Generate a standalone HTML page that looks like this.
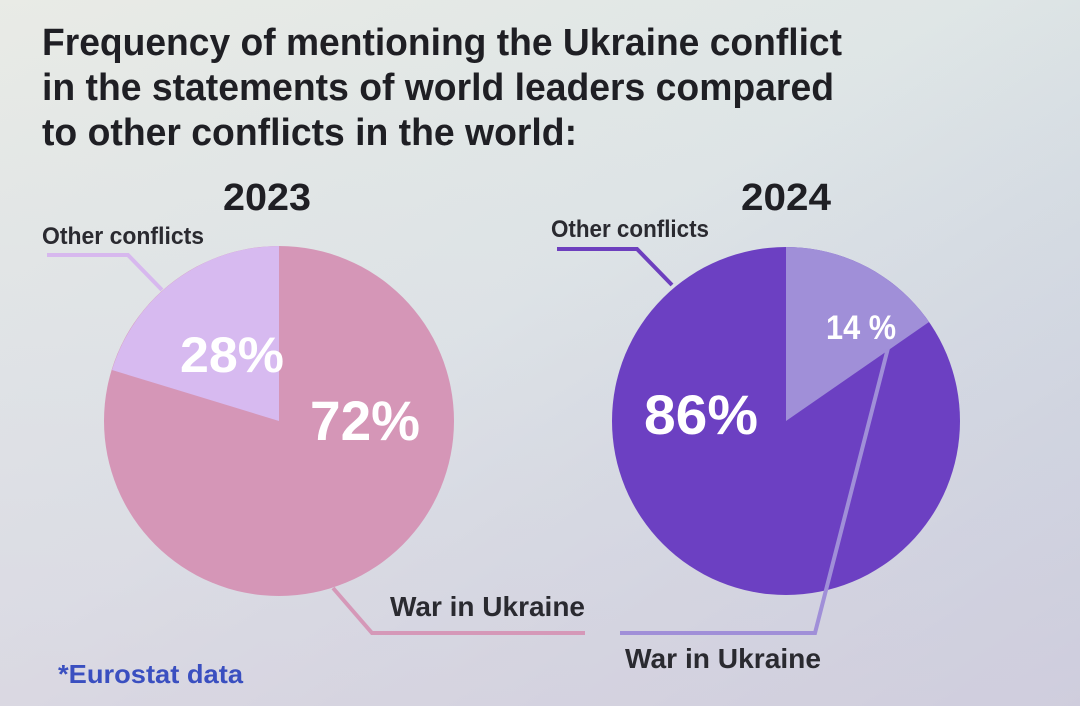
<!DOCTYPE html>
<html><head><meta charset="utf-8"><style>
html,body{margin:0;padding:0;}
body{width:1080px;height:706px;overflow:hidden;}
text{font-family:"Liberation Sans Narrow","Liberation Sans",sans-serif;font-weight:bold;}
</style></head><body>
<svg width="1080" height="706" viewBox="0 0 1080 706" xmlns="http://www.w3.org/2000/svg">
<defs>
<linearGradient id="bg" x1="0" y1="0" x2="1" y2="1">
<stop offset="0" stop-color="#e9ebe6"/>
<stop offset="0.45" stop-color="#dfe6e6"/>
<stop offset="1" stop-color="#c2c9d9"/>
</linearGradient>
<linearGradient id="bg2" x1="0" y1="0" x2="0" y2="1">
<stop offset="0" stop-color="#d6dcea" stop-opacity="0"/>
<stop offset="1" stop-color="#d8d0e0" stop-opacity="0.6"/>
</linearGradient>
</defs>
<rect width="1080" height="706" fill="url(#bg)"/>
<rect width="1080" height="706" fill="url(#bg2)"/>
<g fill="#1f1f24" font-size="38">
<text x="42" y="55" textLength="800" lengthAdjust="spacingAndGlyphs">Frequency of mentioning the Ukraine conflict</text>
<text x="42" y="100" textLength="792" lengthAdjust="spacingAndGlyphs">in the statements of world leaders compared</text>
<text x="42" y="145" textLength="535" lengthAdjust="spacingAndGlyphs">to other conflicts in the world:</text>
<text x="223" y="210" font-size="38" textLength="88" lengthAdjust="spacingAndGlyphs">2023</text>
<text x="741" y="210" font-size="38" textLength="90" lengthAdjust="spacingAndGlyphs">2024</text>
</g>
<g fill="#2a2a30" font-size="24">
<text x="42" y="244" textLength="162" lengthAdjust="spacingAndGlyphs">Other conflicts</text>
<text x="551" y="237" textLength="158" lengthAdjust="spacingAndGlyphs">Other conflicts</text>
<text x="390" y="616" font-size="28" textLength="195" lengthAdjust="spacingAndGlyphs">War in Ukraine</text>
<text x="625" y="668" font-size="28" textLength="196" lengthAdjust="spacingAndGlyphs">War in Ukraine</text>
</g>
<text x="58" y="683" font-size="26" fill="#3a4fc0" textLength="185" lengthAdjust="spacingAndGlyphs">*Eurostat data</text>
<polyline points="47,255 128,255 162,290" fill="none" stroke="#d7b8ee" stroke-width="4"/>
<polyline points="333,588 372,633 585,633" fill="none" stroke="#d598b8" stroke-width="4"/>
<circle cx="279" cy="421" r="175" fill="#d596b7"/>
<path d="M279,421 L279,246 A175,175 0 0 0 112,370 Z" fill="#d7baf0"/>
<text x="180" y="372" font-size="50" fill="#fff" textLength="104" lengthAdjust="spacingAndGlyphs">28%</text>
<text x="310" y="440" font-size="56" fill="#fff" textLength="110" lengthAdjust="spacingAndGlyphs">72%</text>
<polyline points="557,249 637,249 672,285" fill="none" stroke="#6d3fbe" stroke-width="4"/>
<circle cx="786" cy="421" r="174" fill="#6c40c2"/>
<path d="M786,421 L786,247 A174,174 0 0 1 929,322 Z" fill="#a08fd8"/>
<polyline points="888,348 815,633 620,633" fill="none" stroke="#a08fd8" stroke-width="4"/>
<text x="826" y="339" font-size="34" fill="#fff" textLength="70" lengthAdjust="spacingAndGlyphs">14 %</text>
<text x="644" y="434" font-size="56" fill="#fff" textLength="114" lengthAdjust="spacingAndGlyphs">86%</text>
</svg>
</body></html>
